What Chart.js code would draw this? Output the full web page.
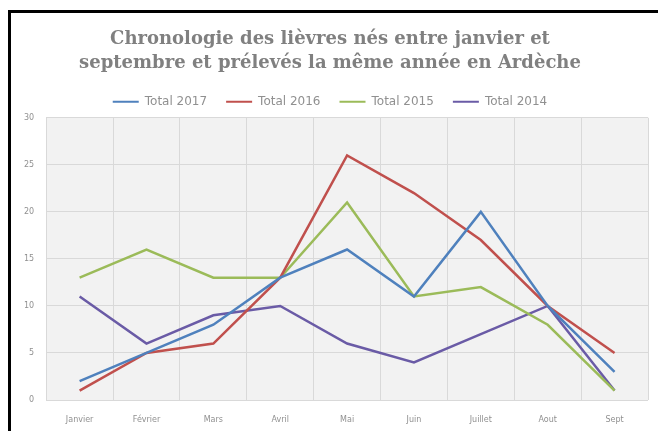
<!DOCTYPE html>
<html>
<head>
<meta charset="utf-8">
<script src="https://cdn.jsdelivr.net/npm/chart.js@4/dist/chart.umd.min.js"></script>
<style>
html,body{margin:0;padding:0;background:#fff;}
#wrap{position:absolute;left:0;top:0;width:658px;height:431px;}
#frame{position:absolute;left:8px;top:10px;width:660px;height:430px;border-left:3px solid #000;border-top:3px solid #000;box-sizing:border-box;pointer-events:none;}
canvas{position:absolute;left:0;top:0;}
</style>
</head>
<body>
<div id="wrap"><canvas id="c" width="658" height="431"></canvas><div id="frame"></div></div>
<script>
const categories = ["Janvier","Février","Mars","Avril","Mai","Juin","Juillet","Aout","Sept"];
const total2017 = [2, 5, 8, 13, 16, 11, 20, 10, 3];
const total2016 = [1, 5, 6, 13, 26, 22, 17, 10, 5];
const total2015 = [13, 16, 13, 13, 21, 11, 12, 8, 1];
const total2014 = [11, 6, 9, 10, 6, 4, 7, 10, 1];
const seriesNames = ["Total 2017","Total 2016","Total 2015","Total 2014"];
const yTicks = [0, 5, 10, 15, 20, 25, 30];
const titleLines = ["Chronologie des lièvres nés entre janvier et","septembre et prélevés la même année en Ardèche"];

const colors = ["#4F81BD","#C0504D","#9BBB59","#6A5BA6"];
const allSeries = [total2017, total2016, total2015, total2014];

const bgPlugin = {
  id: 'plotBg',
  beforeDraw(chart) {
    const {ctx, chartArea: a} = chart;
    ctx.save();
    ctx.fillStyle = '#f2f2f2';
    ctx.fillRect(a.left, a.top, a.right - a.left, a.bottom - a.top);
    ctx.restore();
  }
};

new Chart(document.getElementById('c'), {
  type: 'line',
  data: {
    labels: categories,
    datasets: seriesNames.map((n, i) => ({
      label: n,
      data: allSeries[i],
      borderColor: colors[i],
      backgroundColor: colors[i],
      borderWidth: 2.5,
      pointRadius: 0,
      tension: 0,
      fill: false
    }))
  },
  options: {
    responsive: false,
    animation: false,
    layout: {padding: {left: 12, right: 10, top: 28, bottom: 0}},
    plugins: {
      title: {
        display: true,
        text: titleLines,
        color: '#808080',
        font: {family: 'DejaVu Serif', size: 18, weight: 'bold', lineHeight: 1.3},
        padding: {top: 0, bottom: 2}
      },
      legend: {
        display: true,
        position: 'top',
        labels: {
          color: '#909090',
          font: {family: 'DejaVu Sans', size: 12},
          boxWidth: 26,
          boxHeight: 2,
          padding: 19,
          generateLabels(chart) {
            return chart.data.datasets.map((d, i) => ({
              text: d.label, fillStyle: d.borderColor, strokeStyle: d.borderColor,
              fontColor: '#909090',
              lineWidth: 0, datasetIndex: i, hidden: false
            }));
          }
        }
      },
      tooltip: {enabled: false}
    },
    scales: {
      x: {
        offset: true,
        grid: {offset: true, color: '#d9d9d9', drawTicks: false},
        border: {display: false},
        afterFit(scale) { scale.height = 31; },
        ticks: {color: '#909090', font: {family: 'DejaVu Sans', size: 8}, padding: 15, maxRotation: 0}
      },
      y: {
        min: 0, max: 30,
        afterBuildTicks(scale) { scale.ticks = yTicks.map(v => ({value: v})); },
        grid: {color: '#d9d9d9', drawTicks: false},
        border: {display: false},
        ticks: {color: '#909090', font: {family: 'DejaVu Sans', size: 8}, padding: 12}
      }
    }
  },
  plugins: [bgPlugin]
});
</script>
</body>
</html>
